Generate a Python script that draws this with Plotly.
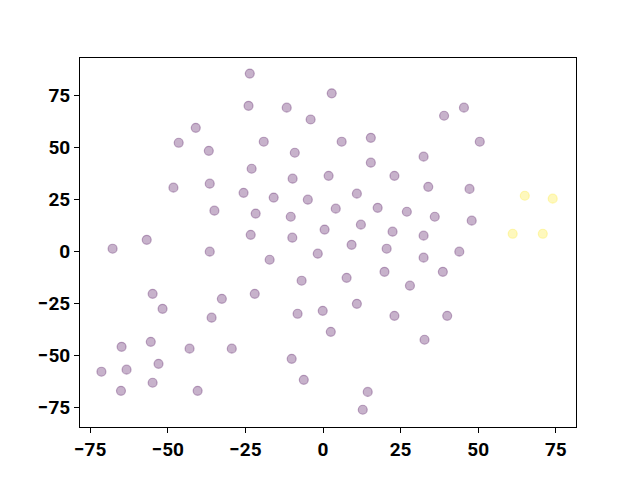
import plotly.graph_objects as go

x_a = [-23.6, 2.8, -24.0, -11.7, 45.4, -4.0, 39.0, -41.0, -19.1, -46.5,
       6.0, 15.4, 50.5, -36.8, -9.1, 15.4, 32.4, -23.0, 1.8, 23.0,
       -9.8, -36.5, -48.2, 33.9, 47.2, -25.6, 10.9, -15.9, -4.9, -35.0,
       4.1, 17.6, -21.7, 27.0, -10.4, 36.0, 47.9, 12.2, 0.5, 22.4,
       -23.3, -9.9, 32.4, -67.8, -56.8, -36.5, -1.7, 9.2, 20.5, 43.9,
       32.4, -17.2, 7.6, 19.8, 38.6, -6.9, 28.0, -54.9, -22.0, 10.9,
       -32.6, -51.7, -0.1, -8.2, 23.0, 40.0, -35.9, 2.5, -55.5, 32.7,
       -43.0, -29.4, -64.9, -10.1, -53.0, -63.3, -71.4, -6.2, -54.9, -65.1,
       -40.4, 14.4, 12.8]
y_a = [85.5, 76.0, 70.0, 69.1, 69.1, 63.4, 65.2, 59.4, 52.7, 52.2,
       52.7, 54.6, 52.7, 48.3, 47.4, 42.6, 45.5, 39.7, 36.3, 36.3,
       34.9, 32.5, 30.6, 31.0, 30.0, 28.1, 27.7, 25.8, 24.8, 19.5,
       20.5, 20.9, 18.1, 19.0, 16.6, 16.6, 14.7, 12.8, 10.4, 9.4,
       7.9, 6.5, 7.5, 1.2, 5.5, -0.2, -1.2, 3.1, 1.2, -0.2,
       -3.1, -4.1, -12.8, -9.9, -9.9, -14.2, -16.6, -20.5, -20.5, -25.3,
       -22.9, -27.7, -28.7, -30.1, -31.1, -31.1, -32.0, -38.8, -43.6, -42.6,
       -46.9, -46.9, -46.0, -51.8, -54.2, -57.0, -58.0, -61.9, -63.3, -67.2,
       -67.2, -67.7, -76.3]

x_b = [65.0, 74.0, 61.1, 70.8]
y_b = [26.7, 25.3, 8.4, 8.4]

tick_vals = [-75, -50, -25, 0, 25, 50, 75]
tick_text = ["\u221275", "\u221250", "\u221225", "0", "25", "50", "75"]

purple = "rgba(68,1,84,0.3)"
yellow = "rgba(253,231,37,0.3)"

fig = go.Figure()
fig.add_trace(go.Scatter(x=x_a, y=y_a, mode="markers",
                         marker=dict(size=9, color=purple,
                                     line=dict(color=purple, width=1.2))))
fig.add_trace(go.Scatter(x=x_b, y=y_b, mode="markers",
                         marker=dict(size=9, color=yellow,
                                     line=dict(color=yellow, width=1.2))))

axis_common = dict(showgrid=False, zeroline=False, showline=True, mirror=True,
                   linecolor="black", linewidth=1, ticks="outside", ticklen=5,
                   tickwidth=1, tickcolor="black",
                   tickfont=dict(family="Roboto", size=19, color="black", weight="bold"),
                   tickvals=tick_vals, ticktext=tick_text)

fig.update_layout(
    width=640, height=480,
    margin=dict(l=72, r=72, t=50, b=61, autoexpand=False),
    paper_bgcolor="white", plot_bgcolor="white",
    showlegend=False,
    xaxis=dict(range=[-78.3, 81.5], **axis_common),
    yaxis=dict(range=[-84.6, 93.0], **axis_common),
)

fig.write_html("out.html")
